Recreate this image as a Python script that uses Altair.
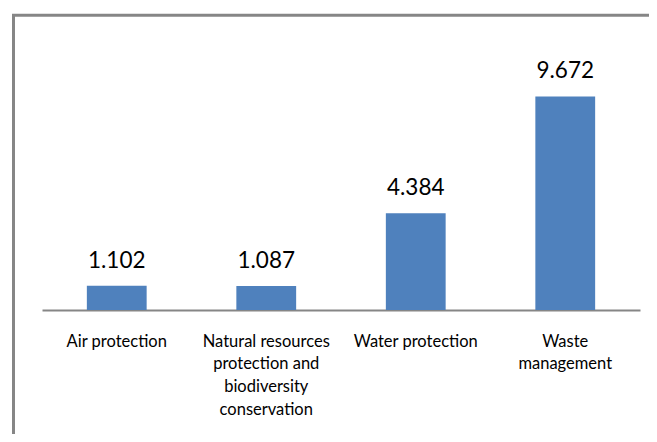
import altair as alt
import pandas as pd

categories = ["Air protection", "Natural resources protection and biodiversity conservation",
              "Water protection", "Waste management"]
label_lines = ["Air protection", "Natural resources|protection and|biodiversity|conservation",
               "Water protection", "Waste|management"]
values = [1.102, 1.087, 4.384, 9.672]

df = pd.DataFrame({"cat": label_lines, "value": values})

W, H = 598, 265

x = alt.X("cat:N", sort=label_lines, title=None,
          scale=alt.Scale(paddingInner=0.6, paddingOuter=0.3),
          axis=alt.Axis(labelExpr="split(datum.label, '|')", labelAngle=0,
                        labelFontSize=16.5, labelFont="Lato", labelColor="#000000",
                        labelLineHeight=22.7, labelBaseline="top", labelPadding=23,
                        ticks=False, domainColor="#868686", domainWidth=2,
                        labelLimit=200))
y = alt.Y("value:Q", title=None, scale=alt.Scale(domain=[0, 12]), axis=None)

bars = alt.Chart(df).mark_bar(color="#4F81BD").encode(x=x, y=y)
text = alt.Chart(df).mark_text(baseline="alphabetic", dy=-18, fontSize=22.5, font="Lato",
                               color="#000000").encode(
    x=alt.X("cat:N", sort=label_lines), y=y, text=alt.Text("value:Q", format=".3f"))

border = alt.Chart(pd.DataFrame({"a": [0]})).mark_rect(
    fill=None, stroke="#868686", strokeWidth=3).encode(
    x=alt.value(-28.5), y=alt.value(-29.7), x2=alt.value(700), y2=alt.value(500))

chart = alt.layer(border, bars, text).properties(
    width=W, height=H,
    autosize=alt.AutoSizeParams(type="none"),
    padding={"left": 34, "top": 37, "right": 9, "bottom": 124},
).configure_view(stroke=None)

chart.save("out.html", embed_options={"renderer": "svg", "actions": False})
